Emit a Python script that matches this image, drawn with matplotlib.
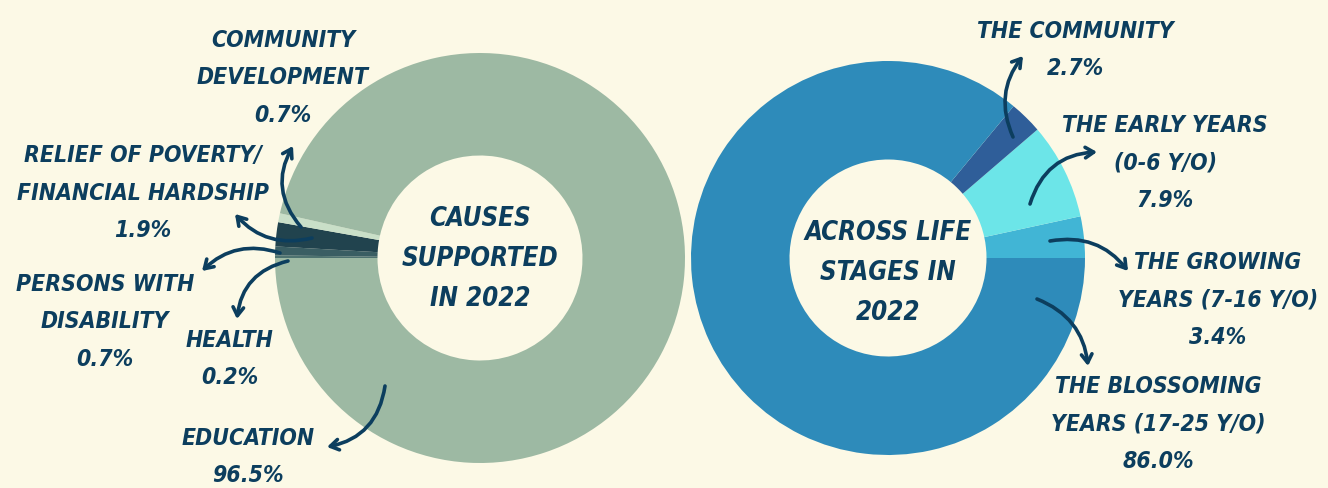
import matplotlib
matplotlib.use("Agg")
import matplotlib.pyplot as plt

# ---------------- data ----------------
cause_labels = ["HEALTH", "PERSONS WITH\nDISABILITY", "RELIEF OF POVERTY/\nFINANCIAL HARDSHIP",
                "COMMUNITY\nDEVELOPMENT", "EDUCATION"]
cause_values = [0.2, 0.7, 1.9, 0.7, 96.5]
cause_colors = ["#4E7370", "#3A5E63", "#21434E", "#C9DFC8", "#9DB9A3"]

stage_labels = ["THE GROWING\nYEARS (7-16 Y/O)", "THE EARLY YEARS\n(0-6 Y/O)",
                "THE COMMUNITY", "THE BLOSSOMING\nYEARS (17-25 Y/O)"]
stage_values = [3.4, 7.9, 2.7, 86.0]
stage_colors = ["#41B5D5", "#6CE5E8", "#2F5E99", "#2E8BBA"]

left_title = "CAUSES\nSUPPORTED\nIN 2022"
right_title = "ACROSS LIFE\nSTAGES IN\n2022"

BG = "#FCF9E6"
NAVY = "#0C3E5E"
W, H = 1328, 489

fig = plt.figure(figsize=(W / 100, H / 100), dpi=100, facecolor=BG)

def donut(cx, cy, r, values, colors, start, ccw):
    ax = fig.add_axes([(cx - r) / W, (H - cy - r) / H, 2 * r / W, 2 * r / H])
    ax.pie(values, colors=colors, startangle=start, counterclock=ccw,
           wedgeprops=dict(width=0.5, linewidth=0, edgecolor="none"))
    ax.set_xlim(-1, 1)
    ax.set_ylim(-1, 1)
    ax.set_aspect("equal")
    ax.axis("off")
    ax.patch.set_alpha(0)
    return ax

donut(480, 259, 205, cause_values, cause_colors, 180, False)
donut(888, 259, 197, stage_values, stage_colors, 0, True)

# overlay in pixel coordinates
ov = fig.add_axes([0, 0, 1, 1])
ov.set_xlim(0, W)
ov.set_ylim(H, 0)
ov.axis("off")
ov.patch.set_alpha(0)

font = dict(family="DejaVu Sans", fontweight="bold", style="italic", stretch="condensed",
            color=NAVY, ha="center", va="center")

def label(x, y, txt, size=16.5):
    ov.text(x, y, txt, fontsize=size, linespacing=1.79, **font)

def arrow(tail, head, rad):
    ov.annotate("", xy=head, xytext=tail,
                arrowprops=dict(arrowstyle="->,head_length=0.6,head_width=0.38",
                                color=NAVY, lw=2.6, shrinkA=0, shrinkB=0,
                                connectionstyle=f"arc3,rad={rad}"))

# centre titles
ov.text(480, 259, left_title, fontsize=18.5, linespacing=1.7, **font)
ov.text(888, 273, right_title, fontsize=18.5, linespacing=1.7, **font)

# left labels
label(283, 78, cause_labels[3] + f"\n{cause_values[3]}%")
label(143, 193, cause_labels[2] + f"\n{cause_values[2]}%")
label(105, 322, cause_labels[1] + f"\n{cause_values[1]}%")
label(230, 359, cause_labels[0] + f"\n{cause_values[0]}%")
label(248, 457, cause_labels[4] + f"\n{cause_values[4]}%")

# right labels
label(1075, 50, stage_labels[2] + f"\n{stage_values[2]}%")
label(1165, 163, stage_labels[1] + f"\n{stage_values[1]}%")
label(1218, 300, stage_labels[0] + f"\n{stage_values[0]}%")
label(1158, 424, stage_labels[3] + f"\n{stage_values[3]}%")

# arrows (left)
arrow((301, 228), (293, 147), -0.35)
arrow((312, 239), (235, 215), -0.3)
arrow((280, 254), (202, 272), 0.3)
arrow((288, 262), (237, 320), 0.35)
arrow((385, 387), (327, 448), -0.35)

# arrows (right)
arrow((1013, 138), (1023, 57), -0.3)
arrow((1030, 205), (1097, 153), -0.35)
arrow((1050, 242), (1128, 272), -0.3)
arrow((1037, 300), (1088, 367), -0.3)

fig.savefig("out.png", dpi=100, facecolor=BG)
